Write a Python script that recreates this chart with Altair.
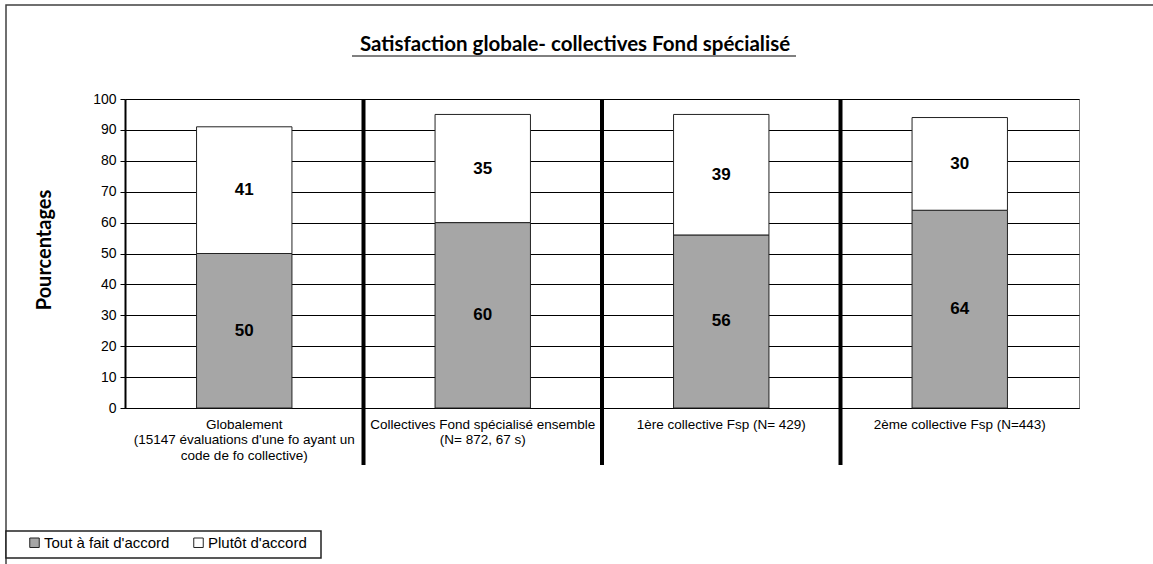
import altair as alt
import pandas as pd

# Categories (use "|" to break a label onto several lines)
categories = [
    "Globalement|(15147 évaluations d'une fo ayant un|code de fo collective)",
    "Collectives Fond spécialisé ensemble|(N= 872, 67 s)",
    "1ère collective Fsp (N= 429)",
    "2ème collective Fsp (N=443)",
]
series = ["Tout à fait d'accord", "Plutôt d'accord"]
tout_a_fait = [50, 60, 56, 64]
plutot = [41, 35, 39, 30]
y_ticks = list(range(0, 101, 10))

rows = []
for c, a, b in zip(categories, tout_a_fait, plutot):
    rows.append({"cat": c, "serie": series[0], "value": a, "ord": 0})
    rows.append({"cat": c, "serie": series[1], "value": b, "ord": 1})
df = pd.DataFrame(rows)

AX = "Liberation Sans"
x_scale = alt.Scale(domain=categories, paddingInner=0, paddingOuter=0)
y_scale = alt.Scale(domain=[0, 100], nice=False)
color_scale = alt.Scale(domain=series, range=["#A6A6A6", "#FFFFFF"])

x_axis = alt.Axis(
    labelExpr="split(datum.label, '|')",
    labelAngle=0, labelFont=AX, labelFontSize=13.5, labelColor="black",
    labelLineHeight=15.5, labelPadding=9, labelLimit=400,
    labelBaseline="top", ticks=False, domain=True,
    domainColor="black", domainWidth=1, grid=False,
)
y_axis = alt.Axis(
    values=y_ticks, labelFont=AX, labelFontSize=14, labelColor="black",
    labelOverlap=False, tickSize=5, tickColor="black", labelPadding=4,
    domainColor="black", domainWidth=2,
    gridColor="black", gridWidth=1, grid=True,
)

stacked = (
    alt.Chart(df)
    .transform_stack(
        stack="value", groupby=["cat"], as_=["y0", "y1"],
        sort=[alt.SortField("ord", order="ascending")],
    )
    .transform_calculate(mid="(datum.y0 + datum.y1) / 2")
)

bars = stacked.mark_bar(
    width=alt.RelativeBandSize(0.4), stroke="#222222", strokeWidth=1
).encode(
    x=alt.X("cat:N", scale=x_scale, title=None, axis=x_axis),
    y=alt.Y("y0:Q", scale=y_scale, title=None, axis=y_axis),
    y2="y1:Q",
    color=alt.Color(
        "serie:N", scale=color_scale, sort=series,
        legend=alt.Legend(
            title=None, orient="none", legendX=-98, legendY=436,
            direction="horizontal", padding=0,
            symbolType="square", symbolSize=90,
            symbolStrokeColor="#222222", symbolStrokeWidth=1,
            labelFont=AX, labelFontSize=15, labelColor="black",
            columnPadding=21, labelOffset=2,
        ),
    ),
    order=alt.Order("ord:Q"),
)

labels = stacked.mark_text(
    font=AX, fontSize=17, fontWeight="bold", color="black"
).encode(
    x=alt.X("cat:N", scale=x_scale, title=None, axis=x_axis),
    y=alt.Y("mid:Q", scale=y_scale, title=None, axis=y_axis),
    text=alt.Text("value:Q"),
)

# Thick separators between the groups, running below the axis
sep_df = pd.DataFrame({"cat": categories[1:]})
separators = alt.Chart(sep_df).mark_rule(color="black", strokeWidth=4).encode(
    x=alt.X("cat:N", scale=x_scale, bandPosition=0, title=None, axis=x_axis),
    y=alt.value(0),
    y2=alt.value(366),
)

one = pd.DataFrame({"k": [0]})

frame = alt.Chart(one).mark_rect(
    fillOpacity=0, stroke="#404040", strokeWidth=1.5
).encode(
    x=alt.value(-119), x2=alt.value(1200),
    y=alt.value(-94), y2=alt.value(700),
)

legend_box = alt.Chart(one).mark_rect(
    fill="white", stroke="#222222", strokeWidth=1.5
).encode(
    x=alt.value(-119), x2=alt.value(196),
    y=alt.value(432), y2=alt.value(459),
)

title = alt.Chart(one).mark_text(
    text="Satisfaction globale- collectives Fond spécialisé",
    font="Lato", fontSize=20.5, fontWeight="bold", color="black",
    align="center", baseline="alphabetic",
).encode(x=alt.value(450), y=alt.value(-48))

underline = alt.Chart(one).mark_rule(color="black", strokeWidth=1).encode(
    x=alt.value(227), x2=alt.value(671), y=alt.value(-43)
)

y_title = alt.Chart(one).mark_text(
    text="Pourcentages", font="Lato", fontSize=20, fontWeight="bold",
    color="black", angle=270, align="center", baseline="middle",
).encode(x=alt.value(-80), y=alt.value(151))

chart = (
    alt.layer(frame, legend_box, bars, labels, separators, title, underline, y_title)
    .properties(
        width=954, height=309,
        autosize=alt.AutoSizeParams(type="none"),
        padding={"left": 125, "top": 99, "right": 74, "bottom": 156},
        background="white",
    )
    .configure_view(stroke="#808080", strokeWidth=1)
)

chart.save("out.html", embed_options={"renderer": "svg", "actions": False})
